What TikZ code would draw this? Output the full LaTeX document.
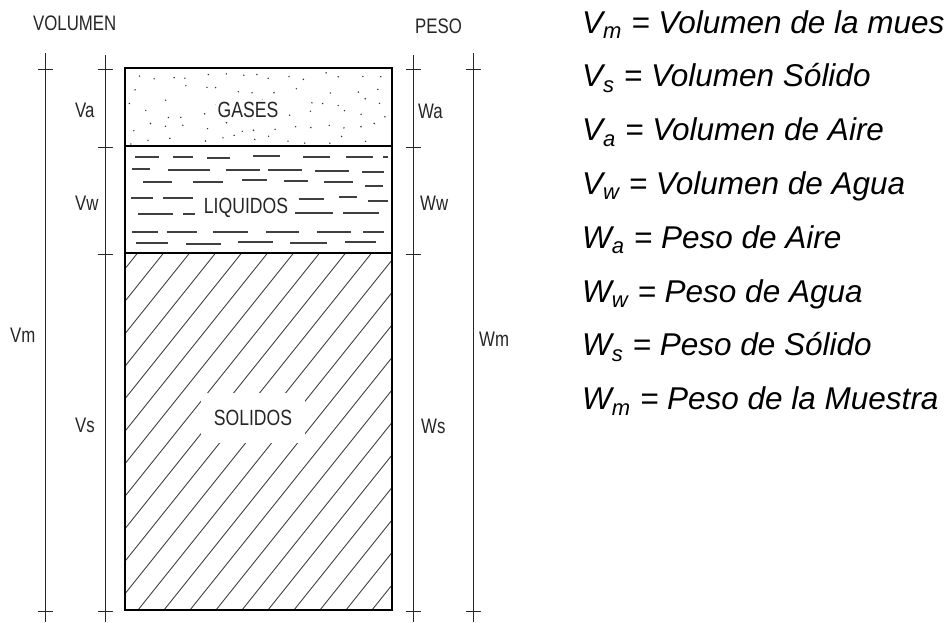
\documentclass[tikz,border=0pt]{standalone}
\usepackage{fontspec}
\setmainfont{Liberation Sans}
\newfontfamily\cadfont[FakeStretch=0.8]{Liberation Sans}
\newcommand{\lsub}[1]{\raisebox{-5.5pt}{\fontsize{22}{22}\selectfont #1}}
\begin{document}
\begin{tikzpicture}[x=1pt,y=-1pt,
  dim/.style={line width=0.9pt, draw=black!85},
  boxline/.style={line width=2.6pt, draw=black},
  hatchline/.style={line width=0.8pt, draw=black!80},
  liq/.style={line width=1.3pt, draw=black!75},
  lbl/.style={anchor=base west, inner sep=0pt, text=black!85, font=\cadfont\fontsize{21}{21}\selectfont},
  inlbl/.style={anchor=base, inner sep=1.5pt, fill=white, text=black!85, font=\cadfont\fontsize{22}{22}\selectfont},
  leg/.style={anchor=base west, inner sep=0pt, font=\fontsize{31.5}{31.5}\selectfont\itshape}]
\useasboundingbox (0,0) rectangle (946,622);
\fill[white] (0,0) rectangle (946,622);
% solids hatch
\begin{scope}
  \clip (125,253) rectangle (392,610);
  \foreach \k in {-12,...,10}
    \draw[hatchline] ({138+26*\k},610) -- ({138+26*\k+288},250);
\end{scope}
\fill[white] (201,393) rectangle (305,443);
% gases dots (jittered grid)
\pgfmathsetseed{777}
\foreach \c in {0,...,14}{
  \foreach \r in {0,...,5}{
    \pgfmathsetmacro\dx{134+17.5*\c+12*(rnd-0.5)}
    \pgfmathsetmacro\dy{77+12.5*\r+9*(rnd-0.5)}
    \pgfmathsetmacro\keep{rnd}
    \ifdim\keep pt>0.12pt
      \fill[black!80] (\dx,\dy) circle[radius=0.8pt];
    \fi
  }
}
% liquid dashes
\foreach \a/\b/\y in {135/159/157,173/193/157,207/230/158,253/280/156,303/330/157,346/373/157,383/388/157,
  132/150/169,168/210/170,226/260/170,268/302/170,315/349/171,362/384/172,
  143/172/182,193/223/182,242/267/180,284/308/181,324/353/182,365/383/186,
  131/153/198,163/193/198,299/324/199,339/357/197,368/388/201,
  138/173/214,183/195/214,295/333/213,343/379/213,
  132/158/232,167/197/232,213/248/232,266/299/232,317/351/232,363/384/232,
  136/168/243,186/221/244,238/273/242,290/327/243,345/376/242}
  \draw[liq] (\a,\y) -- (\b,\y);
% layer texts
\node[inlbl] (gases) at (248,117) {GASES};
\node[inlbl, fill=none] (liquidos) at (246,213) {LIQUIDOS};
\node[inlbl, fill=none] (solidos) at (253,425) {SOLIDOS};
% box
\draw[boxline] (125,68) rectangle (392,610);
\draw[boxline] (125,146) -- (392,146);
\draw[boxline] (125,253) -- (392,253);
% dimension lines
\foreach \x/\t in {45/53,105/55,413/55,473/53}
  \draw[dim] (\x,\t) -- (\x,622);
\foreach \x in {105,413}
  \foreach \y in {69,147,254,611}
    \draw[dim] (\x-7.5,\y) -- (\x+7.5,\y);
\foreach \x in {45,473}
  \foreach \y in {69,611}
    \draw[dim] (\x-7.5,\y) -- (\x+7.5,\y);
% labels
\node[lbl] (volumen) at (33,30) {VOLUMEN};
\node[lbl] (peso) at (415,33) {PESO};
\node[lbl] (va) at (75,117) {Va};
\node[lbl] (vw) at (75,210) {Vw};
\node[lbl] (vs) at (75,432) {Vs};
\node[lbl] (vm) at (10,342) {Vm};
\node[lbl] (wa) at (418,118) {Wa};
\node[lbl] (ww) at (420,210) {Ww};
\node[lbl] (ws) at (421,433) {Ws};
\node[lbl] (wm) at (479,346) {Wm};
% legend
\foreach \L/\s/\t [count=\i] in {V/m/Volumen de la mues, V/s/Volumen Sólido, V/a/Volumen de Aire, V/w/Volumen de Agua,
  W/a/Peso de Aire, W/w/Peso de Agua, W/s/Peso de Sólido, W/m/Peso de la Muestra}
  \node[leg] (leg\i) at (582,{33+53.8*(\i-1)}) {\L\lsub{\s}\hspace{1pt} = \t};
\end{tikzpicture}
\end{document}
